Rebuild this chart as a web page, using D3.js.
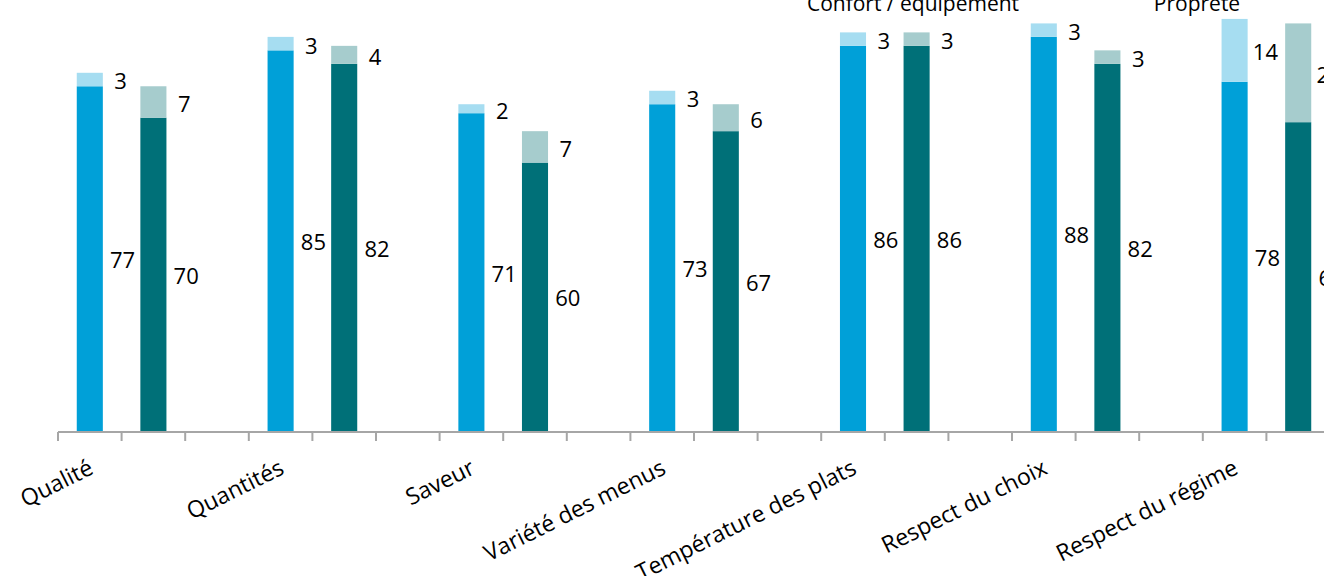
<!DOCTYPE html>
<html><head><meta charset="utf-8">
<script src="https://cdn.jsdelivr.net/npm/d3@7"></script>
<style>body{margin:0;background:#fff}svg{display:block}text{font-family:"Open Sans",sans-serif}</style>
</head><body><svg id="c" width="1324" height="576"></svg>
<script>
const categories = ["Qualité","Quantités","Saveur","Variété des menus","Température des plats","Respect du choix","Respect du régime"];
const seriesA_main = [77,85,71,73,86,88,78];
const seriesA_top  = [3,3,2,3,3,3,14];
const seriesB_main = [70,82,60,67,86,82,69];
const seriesB_top  = [7,4,7,6,3,3,22];
const topLabels = ["Confort / équipement","Propreté"];
const yDomain = [0,100];

const colors = {aMain:"#00A0D8", aTop:"#A6DDF1", bMain:"#007078", bTop:"#A6CCCD", axis:"#A6A6A6"};

const svg = d3.select("#c");
const slots = [];
categories.forEach(c => { slots.push(c+"|A", c+"|B", c+"|gap"); });
const x = d3.scaleBand().domain(slots).range([58, 58 + slots.length*63.6]).padding(0);
const y = d3.scaleLinear().domain(yDomain).range([432, -17]);
const bw = x.bandwidth()*0.41;

const rows = [];
categories.forEach((c,i) => {
  rows.push({slot:c+"|A", main:seriesA_main[i], top:seriesA_top[i], cm:colors.aMain, ct:colors.aTop});
  rows.push({slot:c+"|B", main:seriesB_main[i], top:seriesB_top[i], cm:colors.bMain, ct:colors.bTop});
});

const g = svg.append("g");
rows.forEach(r => {
  const cx = x(r.slot) + x.bandwidth()/2;
  g.append("rect").attr("x", cx-bw/2).attr("width", bw)
    .attr("y", y(r.main)).attr("height", y(0)-y(r.main)).attr("fill", r.cm);
  g.append("rect").attr("x", cx-bw/2).attr("width", bw)
    .attr("y", y(r.main+r.top)).attr("height", y(r.main)-y(r.main+r.top)).attr("fill", r.ct);
  const lx = x(r.slot) + x.bandwidth() + 1;
  g.append("text").attr("x", lx).attr("y", (y(0)+y(r.main))/2 + 1).attr("dy","0.36em")
    .attr("text-anchor","middle").attr("font-size",22).attr("fill","#000").text(r.main);
  g.append("text").attr("x", lx-2).attr("y", (y(r.main)+y(r.main+r.top))/2 + 2).attr("dy","0.36em")
    .attr("text-anchor","middle").attr("font-size",22).attr("fill","#000").text(r.top);
});

// axis
const ax = svg.append("g");
ax.append("line").attr("x1", x.range()[0]).attr("x2", x.range()[1]).attr("y1", y(0)).attr("y2", y(0))
  .attr("stroke", colors.axis).attr("stroke-width", 2);
slots.forEach(s => {
  ax.append("line").attr("x1", x(s)).attr("x2", x(s)).attr("y1", y(0)).attr("y2", y(0)+9)
    .attr("stroke", colors.axis).attr("stroke-width", 2);
});
ax.append("line").attr("x1", x.range()[1]).attr("x2", x.range()[1]).attr("y1", y(0)).attr("y2", y(0)+9)
  .attr("stroke", colors.axis).attr("stroke-width", 2);

categories.forEach(c => {
  const cx = x(c+"|A") + x.bandwidth()/2;
  svg.append("text").attr("transform", `translate(${cx+5},${y(0)+41}) rotate(-26.5)`)
    .attr("text-anchor","end").attr("font-size",23).attr("fill","#000").text(c);
});

// top labels (cut at top edge as in the reference)
svg.append("text").attr("x", 913).attr("y", 11).attr("text-anchor","middle").attr("font-size",21).text(topLabels[0]);
svg.append("text").attr("x", 1197).attr("y", 11).attr("text-anchor","middle").attr("font-size",21).text(topLabels[1]);
</script></body></html>
